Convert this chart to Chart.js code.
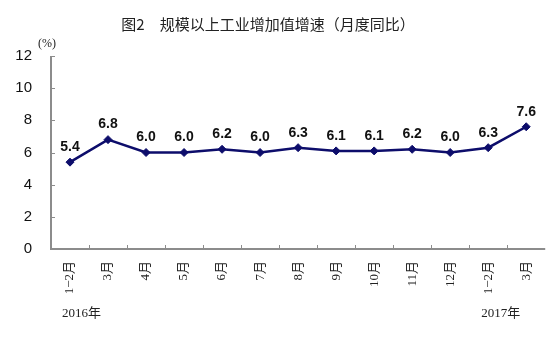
<!DOCTYPE html>
<html>
<head>
<meta charset="utf-8">
<script src="https://cdn.jsdelivr.net/npm/chart.js@4"></script>
<style>
  html, body { margin: 0; padding: 0; background: #fff; }
  #wrap { width: 554px; height: 337px; position: relative; }
</style>
</head>
<body>
<div id="wrap"><canvas id="growthChart" width="554" height="337"></canvas></div>
<script>
// months on the x axis, values in %
const months = ['1\u22122月', '3月', '4月', '5月', '6月', '7月', '8月', '9月', '10月', '11月', '12月', '1\u22122月', '3月'];
const growth = [5.4, 6.8, 6.0, 6.0, 6.2, 6.0, 6.3, 6.1, 6.1, 6.2, 6.0, 6.3, 7.6];
const yTicks = [0, 2, 4, 6, 8, 10, 12];
const yearLabels = ['2016年', '2017年'];

const titleText = '图2\u3000规模以上工业增加值增速（月度同比）';
const lineColor = '#0d0d6b';
const axisColor = '#8c8c8c';
const serifCJK = '"Liberation Serif", "Noto Sans CJK SC", serif';

// axis lines, inward tick marks, value labels, title, unit and years
const decorPlugin = {
    id: 'decor',
    afterDraw(chart) {
        const ctx = chart.ctx;
        const area = chart.chartArea;
        const xs = chart.scales.x;
        const ys = chart.scales.y;

        ctx.save();
        ctx.strokeStyle = axisColor;
        ctx.lineWidth = 2;
        ctx.beginPath();
        ctx.moveTo(area.left, ys.getPixelForValue(12));
        ctx.lineTo(area.left, area.bottom);
        ctx.lineTo(area.right, area.bottom);
        ctx.stroke();

        ctx.lineWidth = 1;
        yTicks.forEach(v => {
            const y = Math.round(ys.getPixelForValue(v)) + 0.5;
            ctx.beginPath();
            ctx.moveTo(area.left, y);
            ctx.lineTo(area.left + 4, y);
            ctx.stroke();
        });
        for (let i = 1; i < months.length; i++) {
            const x = Math.round((xs.getPixelForTick(i - 1) + xs.getPixelForTick(i)) / 2) + 0.5;
            ctx.beginPath();
            ctx.moveTo(x, area.bottom);
            ctx.lineTo(x, area.bottom - 4);
            ctx.stroke();
        }

        // value labels above points
        const meta = chart.getDatasetMeta(0);
        ctx.fillStyle = '#111';
        ctx.font = 'bold 14px "Liberation Sans", Arial, sans-serif';
        ctx.textAlign = 'center';
        ctx.textBaseline = 'bottom';
        meta.data.forEach((pt, i) => {
            ctx.fillText(growth[i].toFixed(1), pt.x, pt.y - 8);
        });

        // title
        ctx.font = '15px "Noto Sans CJK SC", sans-serif';
        ctx.textBaseline = 'middle';
        ctx.fillStyle = '#222';
        ctx.fillText(titleText, 268, 24);

        // unit
        ctx.font = '12px ' + serifCJK;
        ctx.fillText('(%)', 47, 44);

        // years
        ctx.font = '13px ' + serifCJK;
        ctx.textAlign = 'left';
        ctx.fillText(yearLabels[0], xs.getPixelForTick(0) - 8, 314);
        ctx.textAlign = 'right';
        ctx.fillText(yearLabels[1], xs.getPixelForTick(months.length - 1) - 6, 314);
        ctx.restore();
    }
};

const ctx = document.getElementById('growthChart').getContext('2d');
new Chart(ctx, {
    type: 'line',
    data: {
        labels: months,
        datasets: [{
            data: growth,
            borderColor: lineColor,
            backgroundColor: lineColor,
            borderWidth: 2.5,
            pointStyle: 'rectRot',
            pointRadius: 4,
            pointBorderWidth: 1,
            tension: 0
        }]
    },
    options: {
        responsive: false,
        animation: false,
        devicePixelRatio: 1,
        layout: { padding: { top: 56, right: 4, left: 0, bottom: 0 } },
        plugins: {
            legend: { display: false },
            tooltip: { enabled: false },
            title: { display: false }
        },
        scales: {
            x: {
                type: 'category',
                offset: true,
                grid: { display: false, drawTicks: false },
                border: { display: false },
                ticks: {
                    color: '#222',
                    font: { size: 13, family: serifCJK },
                    minRotation: 90,
                    maxRotation: 90,
                    padding: 12,
                    autoSkip: false
                },
                afterFit(scale) { scale.height = 88; }
            },
            y: {
                min: 0,
                max: 12,
                grid: { display: false, drawTicks: false },
                border: { display: false },
                ticks: {
                    stepSize: 2,
                    color: '#111',
                    font: { size: 15, family: '"Liberation Sans", Arial, sans-serif' },
                    padding: 19
                },
                afterFit(scale) { scale.width = 51; }
            }
        }
    },
    plugins: [decorPlugin]
});
</script>
</body>
</html>
